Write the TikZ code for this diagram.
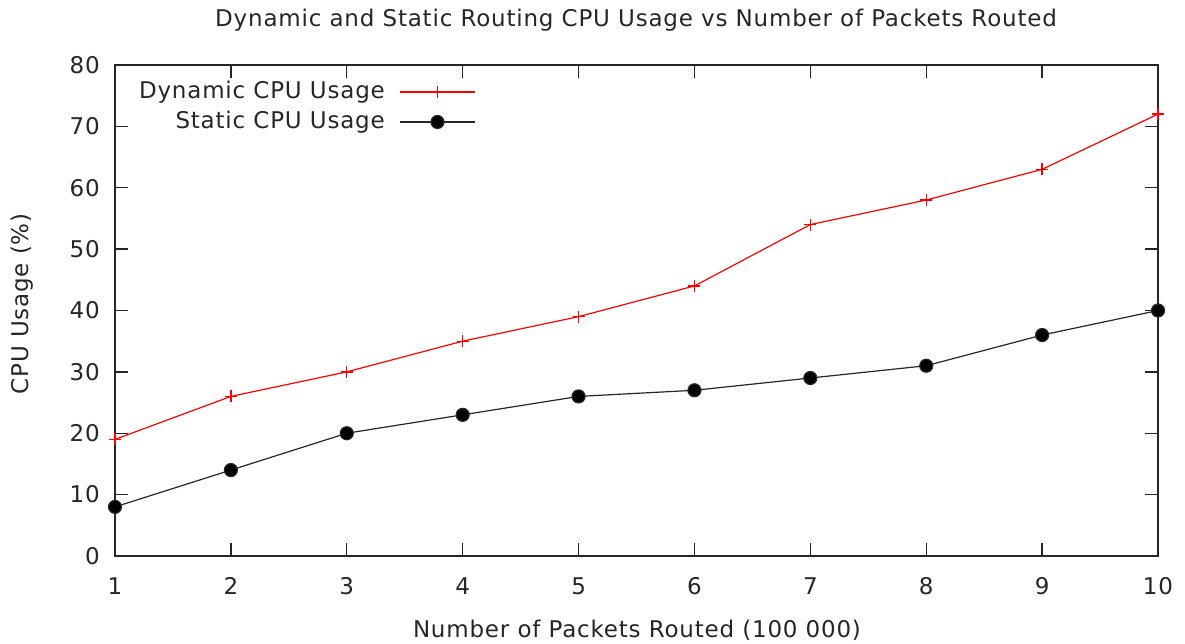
\documentclass[tikz,border=0pt]{standalone}
\usepackage{fontspec}
\setmainfont{DejaVu Sans}[LetterSpace=3.5]
\begin{document}
\begin{tikzpicture}[x=1pt,y=1pt,
  lbl/.style={font=\fontsize{23}{27}\selectfont, text=black!85, inner sep=0pt},
  axisline/.style={line width=1.4pt, black!85},
  dynline/.style={line width=1.2pt, red},
  statline/.style={line width=1.2pt, black!85},
]
\useasboundingbox (0,0) rectangle (1185,644);
% title and axis labels
\node[lbl] (title) at (636,624) {Dynamic and Static Routing CPU Usage vs Number of Packets Routed};
\node[lbl] (xlabel) at (637,14) {Number of Packets Routed (100 000)};
\node[lbl, rotate=90] (ylabel) at (22,340) {CPU Usage (\%)};
\begin{scope}[x=115.89pt, y=6.1375pt, xshift=-0.89pt, yshift=88pt]
  % ticks
  \foreach \i in {1,...,10} {
    \draw[axisline] (\i,0) -- ++(0,13pt);
    \draw[axisline] (\i,80) -- ++(0,-13pt);
    \node[lbl, anchor=center] (xt\i) at ([yshift=-30pt]\i,0) {\i};
  }
  \foreach \v in {0,10,...,80} {
    \draw[axisline] (1,\v) -- ++(13pt,0);
    \draw[axisline] (10,\v) -- ++(-13pt,0);
    \node[lbl, anchor=east] (yt\v) at ([xshift=-15pt]1,\v) {\v};
  }
  \draw[axisline] (1,0) rectangle (10,80);
  % data
  \draw[dynline] plot[mark=+, mark size=6pt, mark options={line width=1.3pt}] coordinates
    {(1,19) (2,26) (3,30) (4,35) (5,39) (6,44) (7,54) (8,58) (9,63) (10,72)};
  \draw[statline] plot[mark=*, mark size=6.5pt, mark options={fill=black}] coordinates
    {(1,8) (2,14) (3,20) (4,23) (5,26) (6,27) (7,29) (8,31) (9,36) (10,40)};
\end{scope}
% legend
\node[lbl, anchor=east] (legdyn) at (385,552) {Dynamic CPU Usage};
\node[lbl, anchor=east] (legstat) at (385,522) {Static CPU Usage};
\coordinate (d1) at (400,552); \coordinate (d2) at (475,552);
\coordinate (s1) at (400,522); \coordinate (s2) at (475,522);
\draw[dynline] (d1) -- (d2);
\draw[statline] (s1) -- (s2);
\draw[dynline] plot[mark=+, mark size=6pt, mark options={line width=1.3pt}] coordinates {(437.5,552)};
\draw[statline] plot[mark=*, mark size=6.5pt, mark options={fill=black}] coordinates {(437.5,522)};
\end{tikzpicture}
\end{document}
